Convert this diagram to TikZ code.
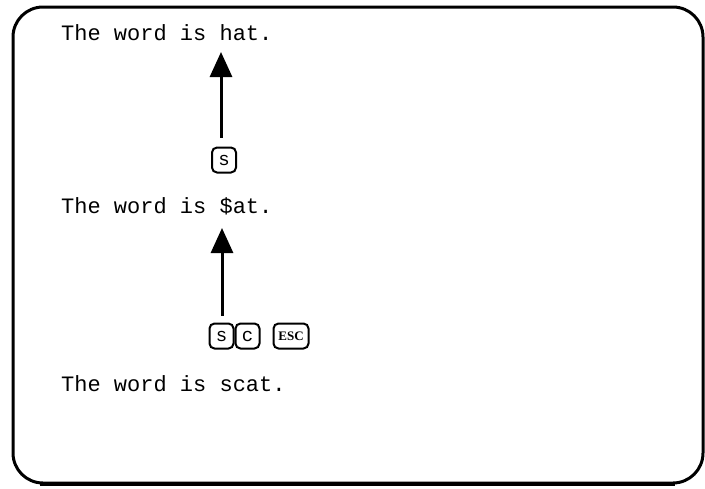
\documentclass[tikz,border=0pt]{standalone}
\usepackage{fontspec}
\setmonofont{Liberation Mono}
\newfontfamily\keyfont{Liberation Serif}
\usetikzlibrary{arrows.meta}
\tikzset{
  sentence/.style={anchor=base west, inner sep=0pt, font=\ttfamily\fontsize{22}{24}\selectfont},
  keycap/.style={draw, line width=2pt, rounded corners=5pt, minimum width=24pt, minimum height=25pt, inner sep=0pt, font=\ttfamily\fontsize{19}{20}\selectfont},
  uparrow/.style={line width=3pt, -{Triangle[length=25pt,width=22pt]}}
}
\begin{document}
\begin{tikzpicture}[x=1pt,y=-1pt]
    \useasboundingbox (0,0) rectangle (705,488);
    % frame
    \draw[line width=3pt, rounded corners=30pt] (13,7) rectangle (703,483);
    \draw[line width=3pt] (40,484.5) -- (675,484.5);

    \node[sentence] (line1) at (61,40) {The word is hat.};
    \node[sentence] (line2) at (61,213) {The word is \$at.};
    \node[sentence] (line3) at (61,391) {The word is scat.};

    % keys
    \node[keycap] (key1) at (224,160) {s};
    \node[keycap] (key2) at (221.5,336) {s};
    \node[keycap, anchor=west] (key3) at (key2.east) {c};
    \node[keycap, minimum width=35pt, font=\keyfont\bfseries\fontsize{13}{14}\selectfont] (esc) at (291,336) {ESC};

    \coordinate (tip1) at (221,52);
    \coordinate (tip2) at (222,228);
    \draw[uparrow, shorten <=9pt] (key1.north -| tip1) -- (tip1);
    \draw[uparrow, shorten <=7pt] (key2.north -| tip2) -- (tip2);
\end{tikzpicture}
\end{document}
